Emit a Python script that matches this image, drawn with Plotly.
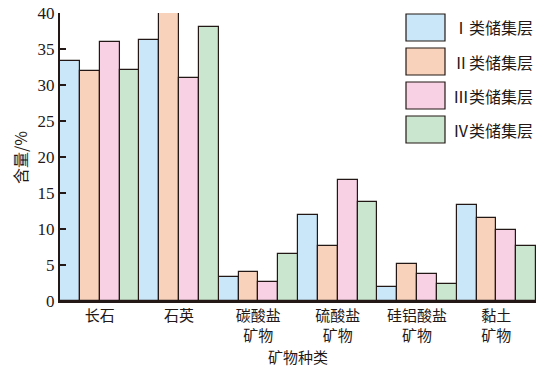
import plotly.graph_objects as go

categories = ["长石", "石英", "碳酸盐<br>矿物", "硫酸盐<br>矿物", "硅铝酸盐<br>矿物", "黏土<br>矿物"]
series_names = ["Ⅰ类储集层", "Ⅱ类储集层", "Ⅲ类储集层", "Ⅳ类储集层"]
s1 = [33.3, 36.2, 3.4, 11.9, 2.0, 13.3]
s2 = [31.9, 40.0, 4.0, 7.6, 5.2, 11.5]
s3 = [36.0, 31.0, 2.7, 16.8, 3.7, 9.9]
s4 = [32.1, 38.0, 6.5, 13.7, 2.3, 7.6]
y_ticks = [0, 5, 10, 15, 20, 25, 30, 35, 40]

colors = ["#c9e7f9", "#f9d2bb", "#f9d1e5", "#cbe6cf"]
edge = "#231815"
serif = "Liberation Serif, Times New Roman, serif"
cjk = "Noto Sans CJK SC"

L, R, T, B = 60, 536, 13, 301
W, H = R - L, B - T

fig = go.Figure()
for name, vals, c in zip(series_names, [s1, s2, s3, s4], colors):
    fig.add_trace(go.Bar(x=categories, y=vals, name=name,
                         marker=dict(color=c, line=dict(color=edge, width=1.2)),
                         showlegend=False, hoverinfo="skip"))

# legend drawn as swatches + labels
for i, (name, c) in enumerate(zip(series_names, colors)):
    y0 = 14 + i * 34
    fig.add_shape(type="rect", xref="paper", yref="paper",
                  x0=(406 - L) / W, x1=(445 - L) / W,
                  y0=(B - y0) / H, y1=(B - (y0 + 27)) / H,
                  fillcolor=c, line=dict(color=edge, width=1.2))
    fig.add_annotation(xref="paper", yref="paper", x=(451 - L) / W, y=(B - (y0 + 13.5)) / H,
                       text=name, showarrow=False, xanchor="left", yanchor="middle",
                       font=dict(family=cjk, size=16, color=edge))

fig.add_annotation(xref="paper", yref="paper", x=(298 - L) / W, y=(B - 356) / H,
                   text="矿物种类", showarrow=False, xanchor="center", yanchor="middle",
                   font=dict(family=cjk, size=15, color=edge))
fig.add_annotation(xref="paper", yref="paper", x=(20 - L) / W, y=(B - 158) / H,
                   text="含量/%", showarrow=False, xanchor="center", yanchor="middle", textangle=-90,
                   font=dict(family=cjk, size=16, color=edge))

fig.update_layout(
    width=548, height=371,
    margin=dict(l=L, r=548 - R, t=T, b=371 - B),
    paper_bgcolor="white", plot_bgcolor="white",
    barmode="group", bargap=0, bargroupgap=0,
    font=dict(family=serif, size=16, color=edge),
    xaxis=dict(showline=True, linecolor=edge, linewidth=2.2, ticks="", showgrid=False, automargin=False,
               tickfont=dict(family=cjk, size=15, color=edge), range=[-0.5, 5.5]),
    yaxis=dict(range=[0, 40], tickvals=y_ticks, showline=True, linecolor=edge, linewidth=2.2,
               ticks="inside", ticklen=6, tickwidth=1.5, tickcolor=edge, showgrid=False, zeroline=False,
               automargin=False,
               tickfont=dict(family=serif, size=17, color=edge)),
)

fig.write_html("out.html", config={"displayModeBar": False},
               post_script="document.body.style.margin='0';")
